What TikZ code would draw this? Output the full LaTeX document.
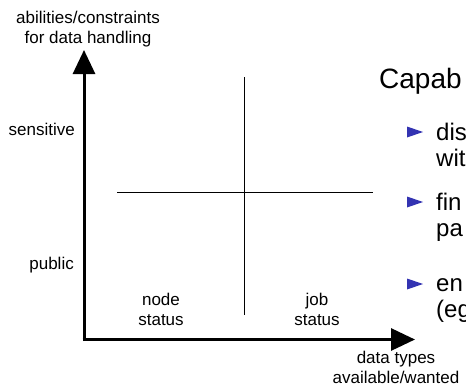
\documentclass[tikz,border=0pt]{standalone}
\usepackage{fontspec}
\setmainfont{Liberation Sans}
\usetikzlibrary{arrows.meta}
\definecolor{bulletblue}{RGB}{51,51,178}
\tikzset{
  lbl/.style={font=\fontsize{17}{19.5}\selectfont, align=center, anchor=base, inner sep=0pt},
  lblr/.style={font=\fontsize{17}{19.5}\selectfont, anchor=base east, inner sep=0pt},
  big/.style={font=\fontsize{24}{26}\selectfont, align=left, anchor=base west, inner sep=0pt},
  axis/.style={line width=3pt, -{Triangle[length=24pt,width=22pt]}},
  thin/.style={line width=0.8pt},
  bul/.style={fill=bulletblue, draw=none}
}
\begin{document}
\begin{tikzpicture}[x=1pt,y=-1pt]
\useasboundingbox (0,0) rectangle (466,389);
\clip (0,0) rectangle (466,389);
% axes
\coordinate (o) at (84,339.5);
\coordinate (ytip) at (84,50);
\coordinate (xtip) at (415,339.5);
\draw[axis] ([yshift=-1.5pt]o) -- (ytip);
\draw[axis] ([xshift=-1.5pt]o) -- (xtip);
% quadrant lines
\coordinate (vt) at (244,77);
\coordinate (vb) at (244,315);
\coordinate (hl) at (117,192);
\coordinate (hr) at (373,192);
\draw[thin] (vt) -- (vb);
\draw[thin] (hl) -- (hr);
% axis labels (anchor = baseline of last line)
\node[lbl] (ylab) at (88,43) {abilities/constraints\\for data handling};
\node[lbl] (xlab) at (396,383) {data types\\available/wanted};
\node[lblr] (sens) at (75,135) {sensitive};
\node[lblr] (pub) at (74,269) {public};
\node[lbl] (node) at (161,325) {node\\status};
\node[lbl] (job) at (317,325) {job\\status};
% slide text (as visible in the reference)
\node[font=\fontsize{28}{30}\selectfont, anchor=base west, inner sep=0pt] (cap) at (379,88) {Capab};
\node[big] (b1) at (436,166) {dis\\wit};
\node[big] (b2) at (436,236) {fin\\pa};
\node[big] (b3) at (436,317) {en\\(eg};
\foreach \y [count=\i] in {132,202,284}{
  \fill[bul] (407,\y-5.5) -- (423,\y) -- (407,\y+5.5) -- cycle;
}
\end{tikzpicture}
\end{document}
